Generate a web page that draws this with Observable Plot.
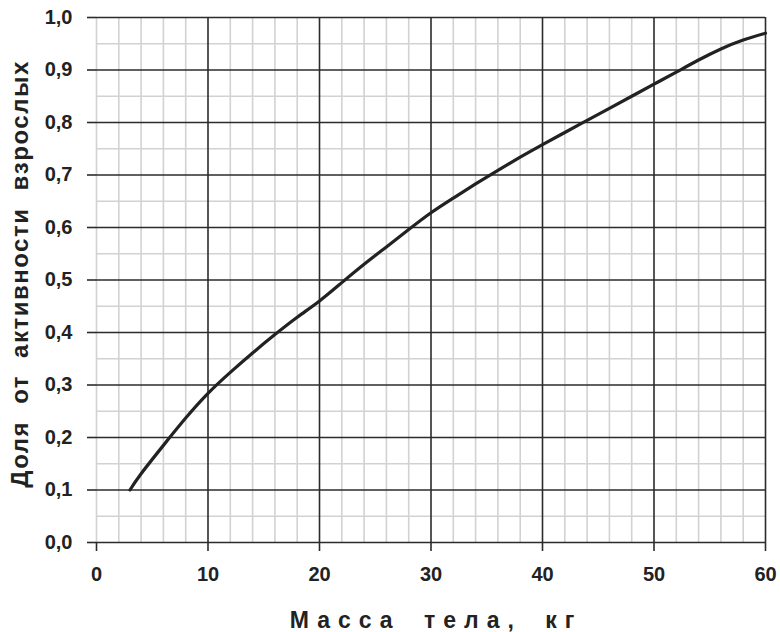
<!DOCTYPE html>
<html>
<head>
<meta charset="utf-8">
<script src="https://cdn.jsdelivr.net/npm/d3@7"></script>
<script src="https://cdn.jsdelivr.net/npm/@observablehq/plot@0.6"></script>
<style>
  html, body { margin: 0; padding: 0; background: #fff; }
  #chart svg { display: block; }
</style>
</head>
<body>
<div id="chart"></div>
<script>
// Body mass (kg)
const mass = [3, 4, 6, 8, 10, 12, 14, 16, 18, 20, 22, 24, 26, 28, 30, 32, 34, 36, 38, 40, 42, 44, 46, 48, 50, 52, 54, 56, 58, 60];
// Share of adult activity
const share = [0.100, 0.131, 0.185, 0.237, 0.284, 0.324, 0.361, 0.396, 0.429, 0.460, 0.495, 0.530, 0.563, 0.596, 0.628, 0.656, 0.683, 0.709, 0.734, 0.758, 0.781, 0.804, 0.827, 0.850, 0.873, 0.896, 0.919, 0.940, 0.957, 0.970];

const xMajorTicks = [0, 10, 20, 30, 40, 50, 60];
const xMinorTicks = [0, 2, 4, 6, 8, 12, 14, 16, 18, 22, 24, 26, 28, 32, 34, 36, 38, 42, 44, 46, 48, 52, 54, 56, 58];
const yMajorTicks = [0, 0.1, 0.2, 0.3, 0.4, 0.5, 0.6, 0.7, 0.8, 0.9, 1.0];
const yMinorTicks = [0.05, 0.15, 0.25, 0.35, 0.45, 0.55, 0.65, 0.75, 0.85, 0.95];

const xTitle = "Масса тела, кг";
const yTitle = "Доля от активности взрослых";

const data = mass.map((m, i) => ({mass: m, share: share[i]}));

const chart = Plot.plot({
  width: 780,
  height: 632,
  marginLeft: 96,
  marginRight: 15,
  marginTop: 17,
  marginBottom: 90,
  style: {fontFamily: "'Liberation Sans', Arial, sans-serif", fontWeight: "bold", color: "#222", background: "#fff"},
  x: {domain: [0, 60]},
  y: {domain: [0, 1]},
  marks: [
    Plot.gridX({ticks: xMinorTicks, stroke: "#d2d2d2", strokeOpacity: 1, strokeWidth: 1.6}),
    Plot.gridY({ticks: yMinorTicks, stroke: "#d2d2d2", strokeOpacity: 1, strokeWidth: 1.6}),
    Plot.gridX({ticks: xMajorTicks.filter(d => d > 0), stroke: "#2b2b2b", strokeOpacity: 1, strokeWidth: 1.6}),
    Plot.gridY({ticks: yMajorTicks, stroke: "#2b2b2b", strokeOpacity: 1, strokeWidth: 1.6}),
    Plot.axisX({ticks: xMajorTicks, tickSize: 9, tickPadding: 15, fontSize: 20, label: null, stroke: "#2b2b2b", strokeWidth: 1.6}),
    Plot.axisY({ticks: yMajorTicks, tickSize: 9, tickPadding: 15, fontSize: 20, label: null,
      tickFormat: d => d.toFixed(1).replace(".", ","), stroke: "#2b2b2b", strokeWidth: 1.6}),
    Plot.line(data, {x: "mass", y: "share", curve: "natural", stroke: "#222", strokeWidth: 3.2}),
    Plot.text([xTitle], {frameAnchor: "bottom", dx: 5, dy: 85, lineAnchor: "bottom", textAnchor: "middle", fontSize: 23, fontWeight: "bold", fill: "#222"}),
    Plot.text([yTitle], {frameAnchor: "left", dx: -76, dy: -6, rotate: -90, lineAnchor: "middle", textAnchor: "middle", fontSize: 24, fontWeight: "bold", fill: "#222"})
  ]
});

d3.select(chart).selectAll("text").each(function () {
  const t = this.textContent;
  if (t === xTitle) d3.select(this).style("letter-spacing", "8px").style("word-spacing", "9px");
  if (t === yTitle) d3.select(this).style("letter-spacing", "1.5px").style("word-spacing", "9px");
});

document.getElementById("chart").appendChild(chart);
</script>
</body>
</html>
